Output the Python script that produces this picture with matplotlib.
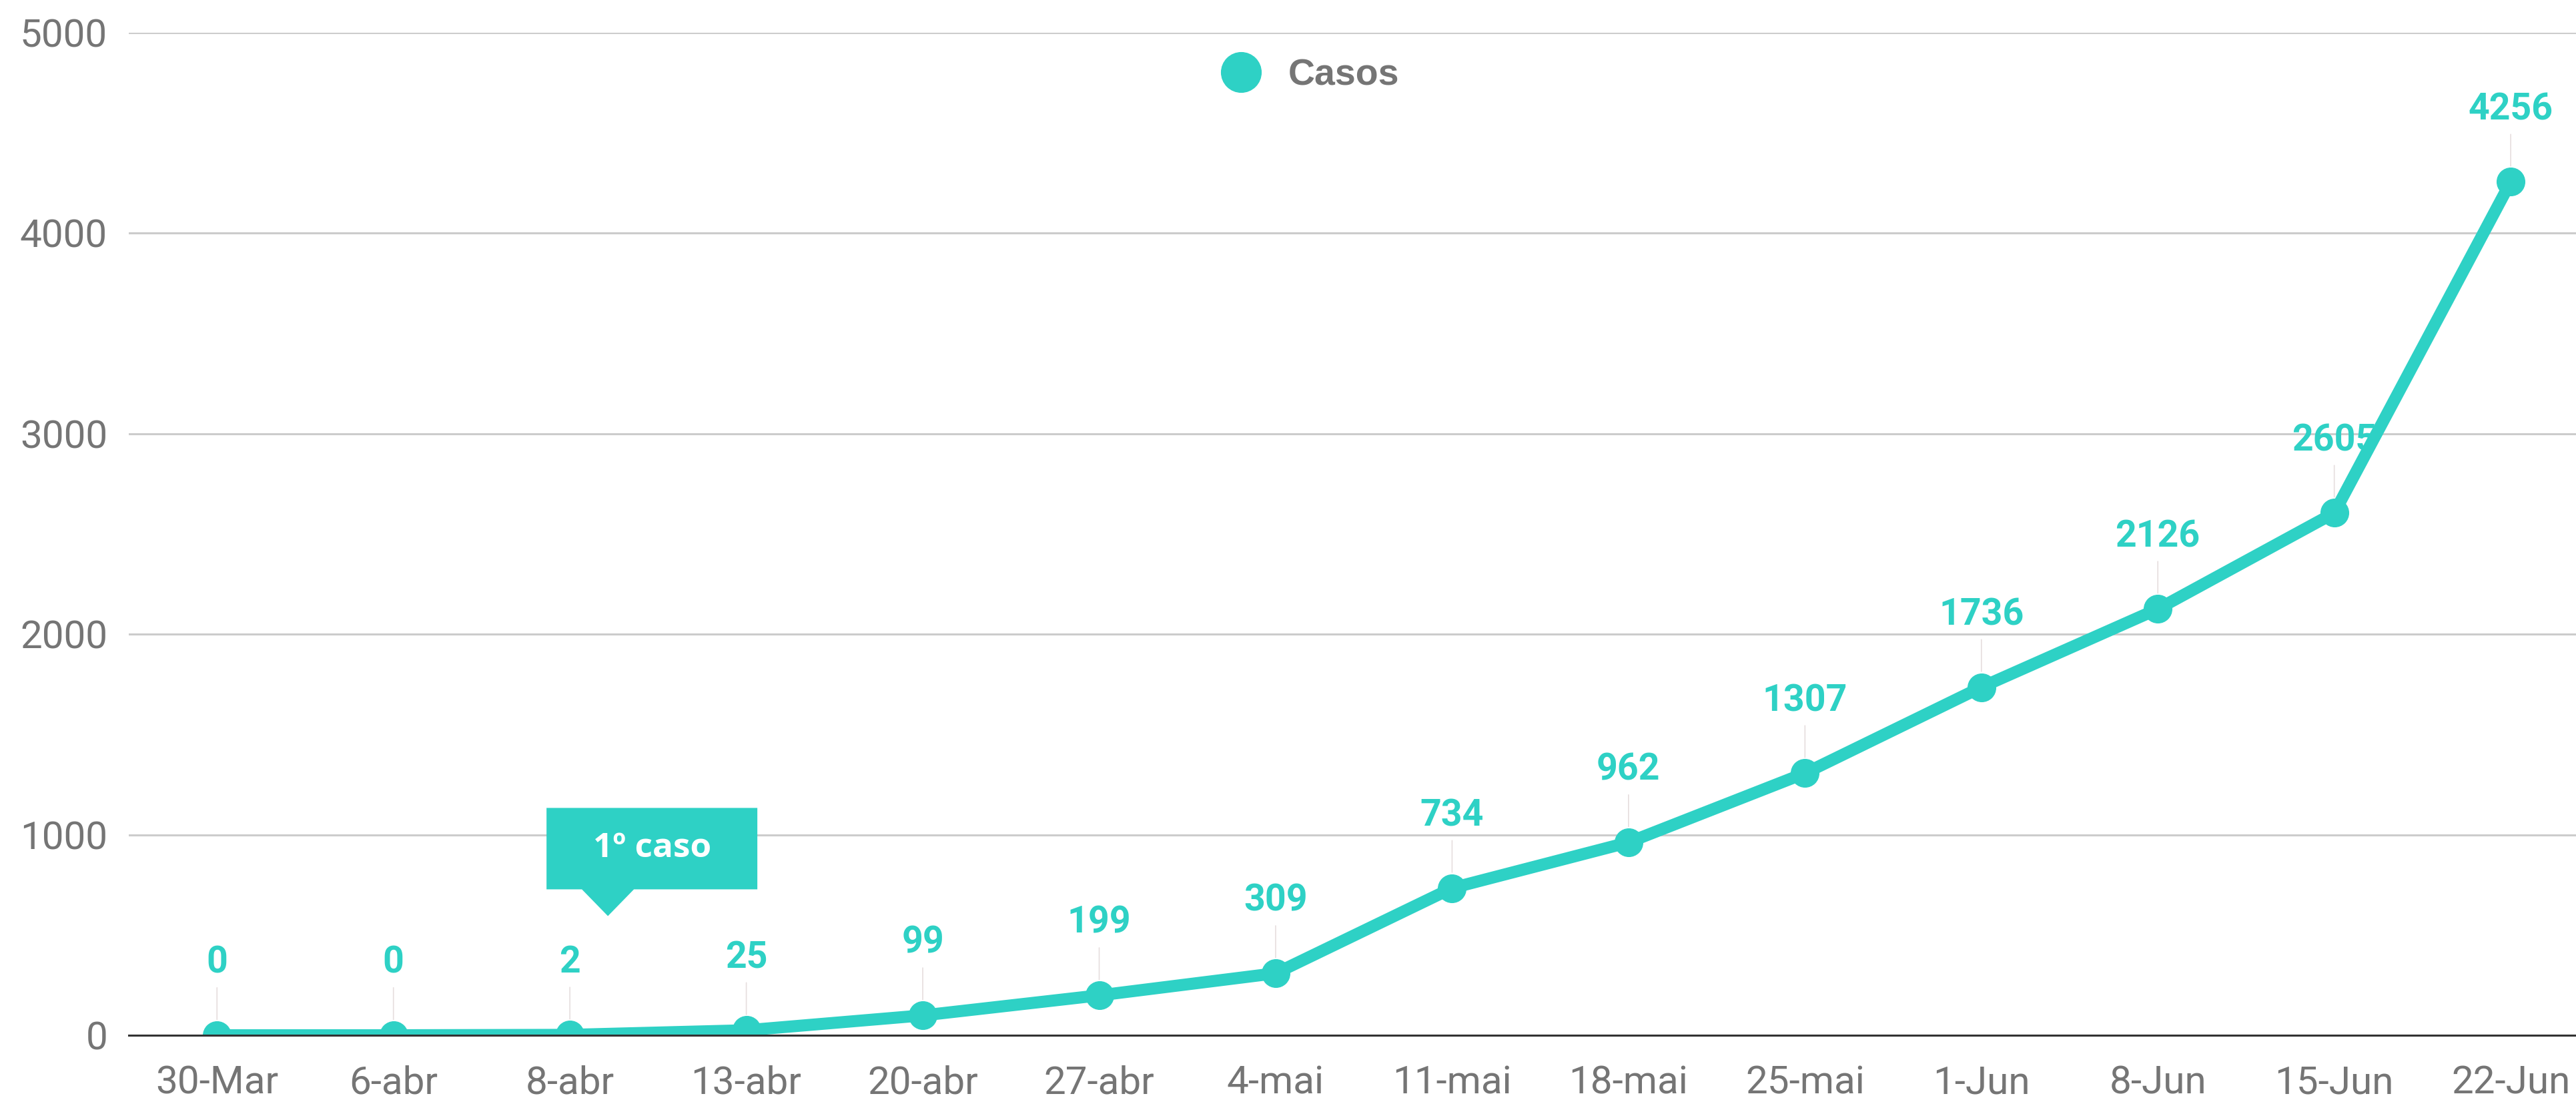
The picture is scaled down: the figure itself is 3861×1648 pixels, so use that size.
import matplotlib
matplotlib.use('Agg')
import matplotlib.pyplot as plt
import matplotlib.transforms as mtransforms
from matplotlib.patches import Polygon
from matplotlib.lines import Line2D
import numpy as np

# dados
datas = ['30-Mar', '6-abr', '8-abr', '13-abr', '20-abr', '27-abr', '4-mai',
         '11-mai', '18-mai', '25-mai', '1-Jun', '8-Jun', '15-Jun', '22-Jun']
casos = [0, 0, 2, 25, 99, 199, 309, 734, 962, 1307, 1736, 2126, 2605, 4256]
y_ticks = [0, 1000, 2000, 3000, 4000, 5000]
legenda = 'Casos'
nota = '1º caso'
indice_nota = 2  # 8-abr

teal = '#2ed1c5'
cinza = '#757575'

plt.rcParams['font.family'] = ['Roboto', 'DejaVu Sans']

W, H = 3861, 1648
fig = plt.figure(figsize=(W / 100, H / 100), dpi=100)
# eixo: esquerda 193px, base 1551px, topo (5000) 49px
ax = fig.add_axes([193 / W, (H - 1551) / H, (W - 193) / W, (1551 - 49) / H])

x = np.arange(len(datas))
ax.plot(x, casos, color=teal, lw=13, marker='o', ms=30, zorder=3)

# rotulos de valores com linha guia
for i, v in enumerate(casos):
    ax.annotate(str(v), xy=(i, v), xytext=(0, 78), textcoords='offset points',
                ha='center', va='center', color=teal, fontsize=40,
                fontweight='bold', annotation_clip=False, zorder=2,
                arrowprops=dict(arrowstyle='-', color='#e6dede', lw=1.2,
                                shrinkA=6, shrinkB=17))

ax.set_xticks(x)
ax.set_xticklabels(datas)
ax.set_yticks(y_ticks)
ax.tick_params(axis='x', length=0, pad=32, labelsize=42, labelcolor=cinza)
ax.tick_params(axis='y', length=0, pad=23, labelsize=42, labelcolor=cinza)

ax.grid(axis='y', color='#cccccc', lw=2.2, zorder=0)
ax.set_axisbelow(True)
for s in ['top', 'right', 'left']:
    ax.spines[s].set_visible(False)
ax.spines['bottom'].set_color('#333333')
ax.spines['bottom'].set_linewidth(2.2)
ax.spines['bottom'].set_zorder(4)

# balao "1º caso" (em pixels, relativo ao ponto de 8-abr)
trans_nota = mtransforms.IdentityTransform() + mtransforms.ScaledTranslation(
    indice_nota, casos[indice_nota], ax.transData)
balao = Polygon([(-35, 218), (18, 218), (57, 178), (96, 218), (281, 218),
                 (281, 340), (-35, 340)], closed=True, transform=trans_nota,
                facecolor=teal, edgecolor='none', clip_on=False, zorder=5)
ax.add_artist(balao)
ax.text(123, 279, nota, transform=trans_nota, ha='center', va='center',
        color='white', fontsize=37, fontweight='bold',
        family=['Open Sans', 'DejaVu Sans'], zorder=6)

# legenda
marca = Line2D([], [], marker='o', ms=43, color=teal, ls='none')
fig.legend(handles=[marca], labels=[legenda], loc='center left',
           bbox_to_anchor=(1832 / W, (H - 113) / H), frameon=False,
           borderpad=0, borderaxespad=0, handlelength=1.0,
           handletextpad=0.78,
           prop=dict(size=40, weight='bold', family='Liberation Sans'),
           labelcolor=cinza)

ax.set_xlim(-0.5, 13.37)
ax.set_ylim(0, 5000)

fig.savefig('out.png', dpi=100, facecolor='white')
